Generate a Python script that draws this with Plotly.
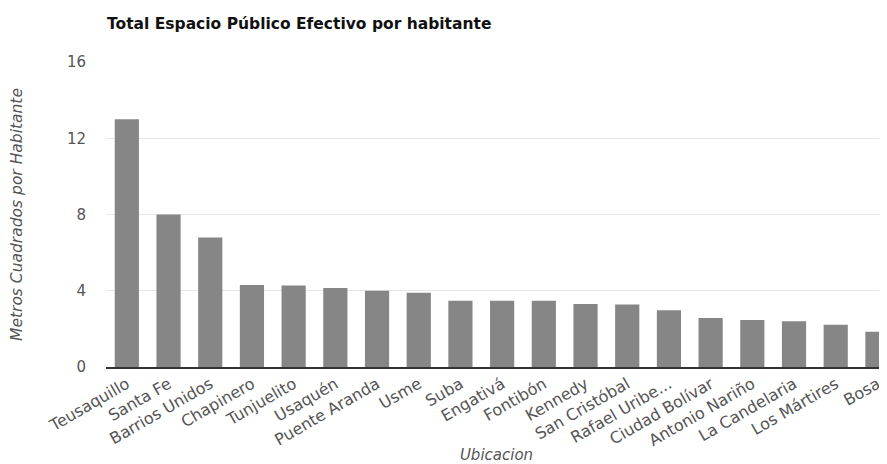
import plotly.graph_objects as go

categories = ["Teusaquillo", "Santa Fe", "Barrios Unidos", "Chapinero", "Tunjuelito",
              "Usaquén", "Puente Aranda", "Usme", "Suba", "Engativá", "Fontibón",
              "Kennedy", "San Cristóbal", "Rafael Uribe...", "Ciudad Bolívar",
              "Antonio Nariño", "La Candelaria", "Los Mártires", "Bosa"]
values = [13.0, 8.0, 6.8, 4.3, 4.27, 4.15, 4.0, 3.9, 3.47, 3.47, 3.47,
          3.3, 3.28, 2.98, 2.57, 2.46, 2.4, 2.21, 1.85]
y_ticks = [0, 4, 8, 12, 16]

FONT = "DejaVu Sans, Arial, sans-serif"
W, H = 879, 456  # page adds an 8px body margin

fig = go.Figure(go.Bar(
    x=categories, y=values,
    marker=dict(color="#868686", line=dict(width=0)),
))

fig.update_layout(
    width=W, height=H,
    margin=dict(l=98, r=0, t=54, b=97),
    paper_bgcolor="white", plot_bgcolor="white",
    bargap=0.42,
    showlegend=False,
    font=dict(family=FONT, color="#555"),
    title=dict(text="<b>Total Espacio Público Efectivo por habitante</b>",
               x=99/W, xanchor="left", xref="container",
               y=1-16/H, yanchor="middle", yref="container",
               font=dict(family=FONT, size=15.5, color="#111")),
    xaxis=dict(
        range=[-0.5, 18.23], automargin=False,
        tickangle=-30, tickfont=dict(family=FONT, size=16, color="#555"),
        showline=True, linecolor="#333", linewidth=1.5,
        ticks="", showgrid=False,
        title=dict(text="<i>Ubicacion</i>", font=dict(family=FONT, size=15, color="#555"), standoff=10),
    ),
    yaxis=dict(
        range=[0, 16], tickvals=y_ticks, automargin=False,
        tickfont=dict(family=FONT, size=15, color="#555"),
        showgrid=True, gridcolor="#e6e6e6", zeroline=False,
        ticks="outside", ticklen=16, tickcolor="rgba(0,0,0,0)",
        title=dict(text="<i>Metros Cuadrados por Habitante</i>", font=dict(family=FONT, size=15.5, color="#555"), standoff=40),
    ),
)

fig.write_html("out.html")
